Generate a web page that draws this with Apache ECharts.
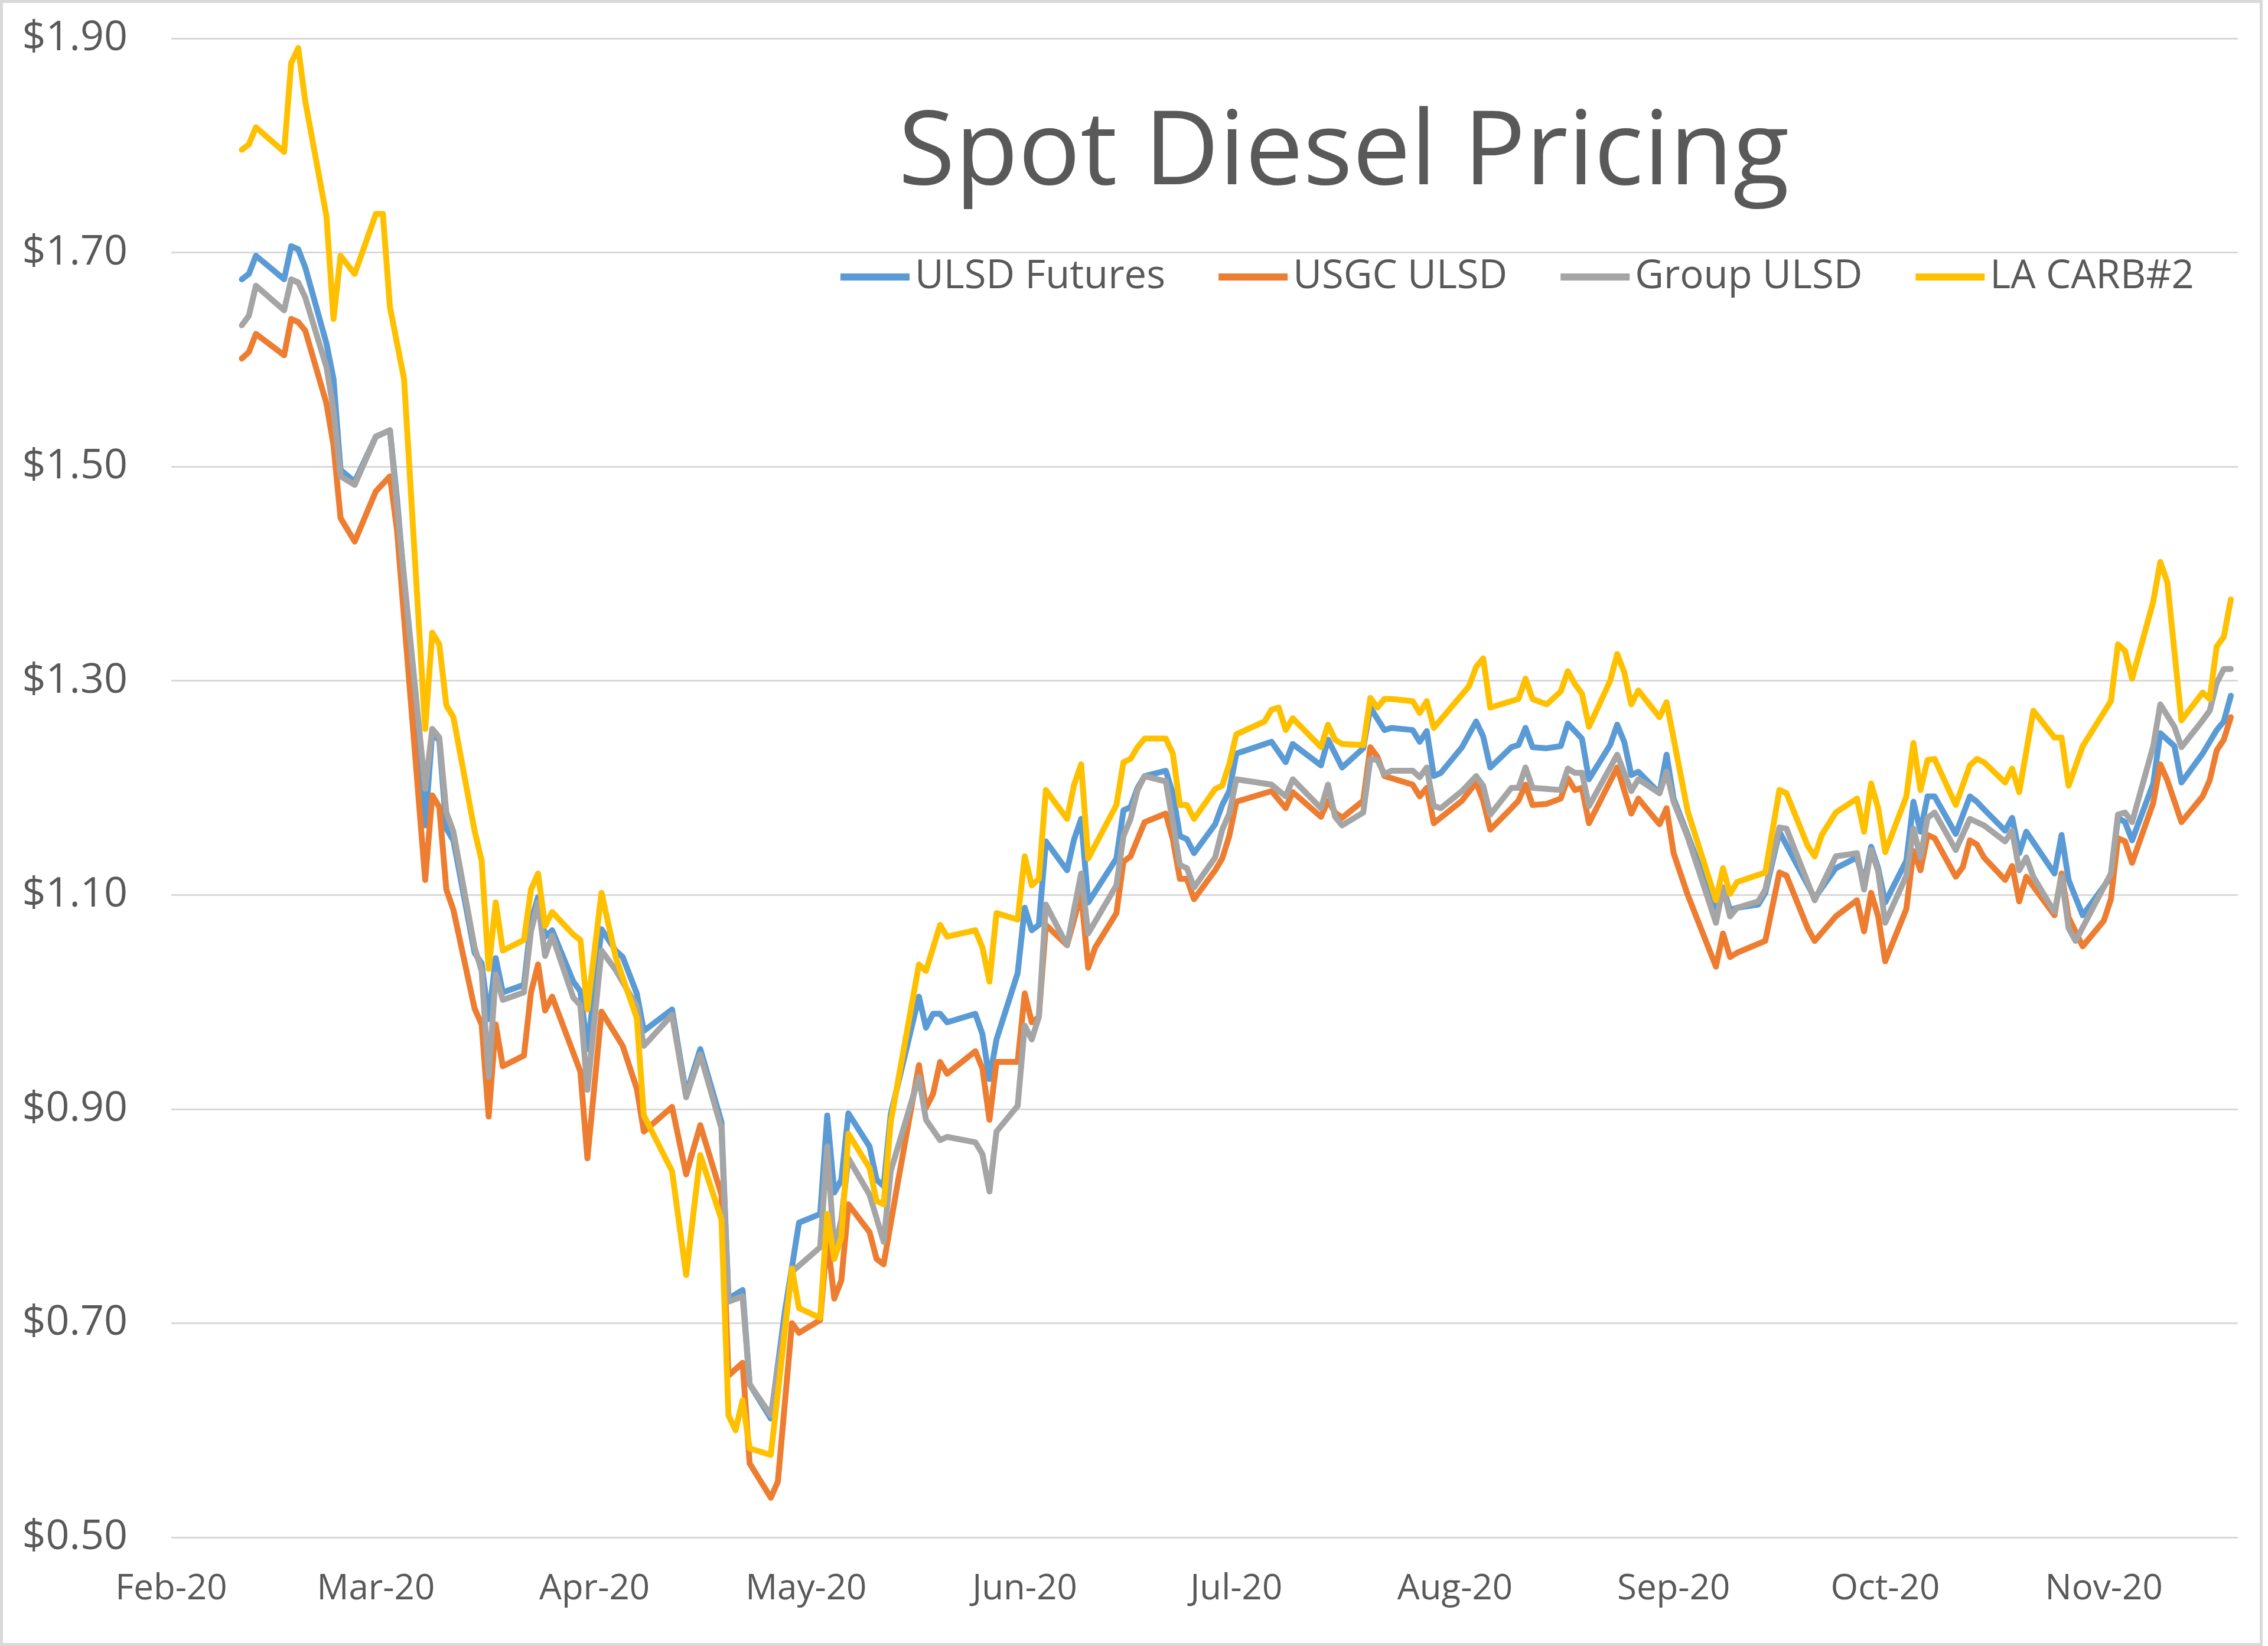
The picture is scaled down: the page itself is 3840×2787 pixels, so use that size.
<!DOCTYPE html>
<html>
<head>
<meta charset="utf-8">
<script src="https://cdn.jsdelivr.net/npm/echarts@6/dist/echarts.min.js"></script>
<style>
html,body{margin:0;padding:0;background:#fff;}
#chart{width:3840px;height:2787px;}
</style>
</head>
<body>
<div id="chart"></div>
<script>
const monthNames = ['Jan','Feb','Mar','Apr','May','Jun','Jul','Aug','Sep','Oct','Nov','Dec'];
const seriesNames = ['ULSD Futures','USGC ULSD','Group ULSD','LA CARB#2'];

const ulsdFutures = [['2020-02-11',1.675],['2020-02-12',1.680],['2020-02-13',1.697],['2020-02-17',1.675],['2020-02-18',1.706],['2020-02-19',1.703],['2020-02-20',1.686],['2020-02-23',1.615],['2020-02-24',1.582],['2020-02-25',1.497],['2020-02-27',1.486],['2020-03-01',1.528],['2020-03-02',1.531],['2020-03-03',1.534],['2020-03-04',1.470],['2020-03-08',1.165],['2020-03-09',1.252],['2020-03-10',1.244],['2020-03-11',1.162],['2020-03-12',1.151],['2020-03-15',1.046],['2020-03-16',1.036],['2020-03-17',0.984],['2020-03-18',1.041],['2020-03-19',1.009],['2020-03-22',1.016],['2020-03-23',1.075],['2020-03-24',1.098],['2020-03-25',1.061],['2020-03-26',1.067],['2020-03-29',1.019],['2020-03-30',1.010],['2020-03-31',0.956],['2020-04-02',1.068],['2020-04-04',1.048],['2020-04-05',1.042],['2020-04-07',1.008],['2020-04-08',0.973],['2020-04-12',0.993],['2020-04-14',0.914],['2020-04-16',0.956],['2020-04-19',0.888],['2020-04-20',0.723],['2020-04-22',0.731],['2020-04-23',0.643],['2020-04-26',0.611],['2020-04-28',0.711],['2020-04-30',0.794],['2020-05-03',0.802],['2020-05-04',0.894],['2020-05-05',0.822],['2020-05-06',0.834],['2020-05-07',0.896],['2020-05-10',0.865],['2020-05-11',0.834],['2020-05-12',0.828],['2020-05-13',0.895],['2020-05-17',1.005],['2020-05-18',0.976],['2020-05-19',0.989],['2020-05-20',0.989],['2020-05-21',0.981],['2020-05-25',0.989],['2020-05-26',0.970],['2020-05-27',0.928],['2020-05-28',0.965],['2020-05-31',1.027],['2020-06-01',1.088],['2020-06-02',1.067],['2020-06-03',1.072],['2020-06-04',1.150],['2020-06-07',1.123],['2020-06-08',1.152],['2020-06-09',1.171],['2020-06-10',1.093],['2020-06-14',1.134],['2020-06-15',1.179],['2020-06-16',1.182],['2020-06-17',1.200],['2020-06-18',1.211],['2020-06-21',1.216],['2020-06-22',1.195],['2020-06-23',1.155],['2020-06-24',1.152],['2020-06-25',1.139],['2020-06-28',1.166],['2020-06-29',1.184],['2020-06-30',1.197],['2020-07-01',1.232],['2020-07-06',1.243],['2020-07-08',1.224],['2020-07-09',1.241],['2020-07-13',1.221],['2020-07-14',1.245],['2020-07-16',1.219],['2020-07-19',1.237],['2020-07-20',1.275],['2020-07-22',1.254],['2020-07-23',1.256],['2020-07-26',1.254],['2020-07-27',1.243],['2020-07-28',1.253],['2020-07-29',1.211],['2020-07-30',1.214],['2020-08-02',1.238],['2020-08-04',1.262],['2020-08-05',1.248],['2020-08-06',1.219],['2020-08-09',1.238],['2020-08-10',1.240],['2020-08-11',1.256],['2020-08-12',1.238],['2020-08-14',1.237],['2020-08-16',1.239],['2020-08-17',1.260],['2020-08-18',1.253],['2020-08-19',1.246],['2020-08-20',1.208],['2020-08-23',1.240],['2020-08-24',1.259],['2020-08-25',1.243],['2020-08-26',1.212],['2020-08-27',1.215],['2020-08-30',1.195],['2020-08-31',1.231],['2020-09-01',1.190],['2020-09-03',1.156],['2020-09-07',1.086],['2020-09-08',1.107],['2020-09-09',1.086],['2020-09-10',1.088],['2020-09-13',1.091],['2020-09-14',1.102],['2020-09-16',1.159],['2020-09-21',1.097],['2020-09-24',1.125],['2020-09-27',1.135],['2020-09-28',1.111],['2020-09-29',1.145],['2020-09-30',1.125],['2020-10-01',1.093],['2020-10-04',1.132],['2020-10-05',1.187],['2020-10-06',1.159],['2020-10-07',1.192],['2020-10-08',1.192],['2020-10-11',1.157],['2020-10-13',1.192],['2020-10-14',1.187],['2020-10-15',1.180],['2020-10-18',1.160],['2020-10-19',1.172],['2020-10-20',1.139],['2020-10-21',1.159],['2020-10-25',1.120],['2020-10-26',1.156],['2020-10-27',1.114],['2020-10-29',1.081],['2020-11-02',1.117],['2020-11-03',1.172],['2020-11-04',1.168],['2020-11-05',1.151],['2020-11-08',1.204],['2020-11-09',1.251],['2020-11-11',1.239],['2020-11-12',1.205],['2020-11-15',1.232],['2020-11-17',1.254],['2020-11-18',1.262],['2020-11-19',1.286]];

const usgcUlsd = [['2020-02-11',1.601],['2020-02-12',1.607],['2020-02-13',1.624],['2020-02-17',1.604],['2020-02-18',1.638],['2020-02-19',1.635],['2020-02-20',1.627],['2020-02-23',1.559],['2020-02-24',1.520],['2020-02-25',1.452],['2020-02-27',1.430],['2020-03-01',1.477],['2020-03-03',1.491],['2020-03-04',1.441],['2020-03-08',1.114],['2020-03-09',1.193],['2020-03-10',1.182],['2020-03-11',1.105],['2020-03-12',1.086],['2020-03-15',0.994],['2020-03-16',0.979],['2020-03-17',0.893],['2020-03-18',0.979],['2020-03-19',0.940],['2020-03-22',0.950],['2020-03-23',1.009],['2020-03-24',1.035],['2020-03-25',0.992],['2020-03-26',1.005],['2020-03-30',0.935],['2020-03-31',0.854],['2020-04-02',0.991],['2020-04-05',0.959],['2020-04-07',0.919],['2020-04-08',0.879],['2020-04-12',0.902],['2020-04-14',0.839],['2020-04-16',0.885],['2020-04-19',0.820],['2020-04-20',0.651],['2020-04-22',0.663],['2020-04-23',0.569],['2020-04-26',0.537],['2020-04-27',0.552],['2020-04-29',0.700],['2020-04-30',0.691],['2020-05-03',0.703],['2020-05-04',0.780],['2020-05-05',0.723],['2020-05-06',0.740],['2020-05-07',0.811],['2020-05-10',0.785],['2020-05-11',0.760],['2020-05-12',0.755],['2020-05-14',0.831],['2020-05-17',0.941],['2020-05-18',0.901],['2020-05-19',0.914],['2020-05-20',0.944],['2020-05-21',0.933],['2020-05-25',0.954],['2020-05-26',0.938],['2020-05-27',0.890],['2020-05-28',0.944],['2020-05-31',0.944],['2020-06-01',1.008],['2020-06-02',0.981],['2020-06-03',0.986],['2020-06-04',1.072],['2020-06-07',1.053],['2020-06-09',1.101],['2020-06-10',1.032],['2020-06-11',1.051],['2020-06-14',1.083],['2020-06-15',1.131],['2020-06-16',1.136],['2020-06-18',1.168],['2020-06-21',1.176],['2020-06-22',1.152],['2020-06-23',1.115],['2020-06-24',1.115],['2020-06-25',1.096],['2020-06-28',1.123],['2020-06-29',1.134],['2020-06-30',1.155],['2020-07-01',1.187],['2020-07-06',1.197],['2020-07-08',1.181],['2020-07-09',1.196],['2020-07-13',1.173],['2020-07-14',1.188],['2020-07-15',1.177],['2020-07-16',1.172],['2020-07-19',1.188],['2020-07-20',1.238],['2020-07-21',1.229],['2020-07-22',1.211],['2020-07-26',1.203],['2020-07-27',1.192],['2020-07-28',1.200],['2020-07-29',1.167],['2020-08-02',1.188],['2020-08-04',1.205],['2020-08-05',1.188],['2020-08-06',1.161],['2020-08-09',1.181],['2020-08-10',1.188],['2020-08-11',1.203],['2020-08-12',1.184],['2020-08-14',1.185],['2020-08-16',1.190],['2020-08-17',1.209],['2020-08-18',1.198],['2020-08-19',1.200],['2020-08-20',1.167],['2020-08-24',1.219],['2020-08-26',1.176],['2020-08-27',1.190],['2020-08-30',1.166],['2020-08-31',1.181],['2020-09-01',1.139],['2020-09-03',1.100],['2020-09-07',1.033],['2020-09-08',1.064],['2020-09-09',1.042],['2020-09-10',1.046],['2020-09-14',1.057],['2020-09-16',1.121],['2020-09-17',1.118],['2020-09-20',1.069],['2020-09-21',1.057],['2020-09-24',1.080],['2020-09-27',1.095],['2020-09-28',1.066],['2020-09-29',1.102],['2020-09-30',1.080],['2020-10-01',1.038],['2020-10-04',1.087],['2020-10-05',1.141],['2020-10-06',1.123],['2020-10-07',1.156],['2020-10-08',1.153],['2020-10-11',1.117],['2020-10-12',1.126],['2020-10-13',1.151],['2020-10-14',1.147],['2020-10-15',1.135],['2020-10-18',1.114],['2020-10-19',1.127],['2020-10-20',1.094],['2020-10-21',1.117],['2020-10-25',1.081],['2020-10-26',1.120],['2020-10-27',1.079],['2020-10-29',1.052],['2020-11-01',1.076],['2020-11-02',1.096],['2020-11-03',1.153],['2020-11-04',1.150],['2020-11-05',1.130],['2020-11-08',1.186],['2020-11-09',1.222],['2020-11-10',1.207],['2020-11-12',1.168],['2020-11-15',1.192],['2020-11-16',1.207],['2020-11-17',1.235],['2020-11-18',1.245],['2020-11-19',1.266]];

const groupUlsd = [['2020-02-11',1.632],['2020-02-12',1.641],['2020-02-13',1.669],['2020-02-17',1.646],['2020-02-18',1.675],['2020-02-19',1.672],['2020-02-20',1.658],['2020-02-23',1.593],['2020-02-24',1.553],['2020-02-25',1.491],['2020-02-27',1.483],['2020-03-01',1.528],['2020-03-03',1.534],['2020-03-04',1.463],['2020-03-08',1.199],['2020-03-09',1.255],['2020-03-10',1.247],['2020-03-11',1.177],['2020-03-12',1.159],['2020-03-15',1.051],['2020-03-16',1.029],['2020-03-17',0.930],['2020-03-18',1.026],['2020-03-19',1.002],['2020-03-22',1.009],['2020-03-23',1.066],['2020-03-24',1.093],['2020-03-25',1.043],['2020-03-26',1.062],['2020-03-29',1.004],['2020-03-30',0.997],['2020-03-31',0.918],['2020-04-02',1.048],['2020-04-04',1.030],['2020-04-07',0.996],['2020-04-08',0.959],['2020-04-12',0.988],['2020-04-14',0.911],['2020-04-16',0.951],['2020-04-19',0.882],['2020-04-20',0.720],['2020-04-22',0.725],['2020-04-23',0.643],['2020-04-26',0.614],['2020-04-28',0.700],['2020-04-29',0.748],['2020-05-03',0.771],['2020-05-04',0.865],['2020-05-05',0.768],['2020-05-06',0.797],['2020-05-07',0.854],['2020-05-10',0.820],['2020-05-12',0.776],['2020-05-13',0.842],['2020-05-17',0.930],['2020-05-18',0.890],['2020-05-20',0.871],['2020-05-21',0.874],['2020-05-25',0.869],['2020-05-26',0.858],['2020-05-27',0.823],['2020-05-28',0.879],['2020-05-31',0.903],['2020-06-01',0.978],['2020-06-02',0.965],['2020-06-03',0.986],['2020-06-04',1.091],['2020-06-07',1.053],['2020-06-09',1.120],['2020-06-10',1.064],['2020-06-14',1.109],['2020-06-15',1.155],['2020-06-16',1.171],['2020-06-17',1.198],['2020-06-18',1.211],['2020-06-21',1.206],['2020-06-22',1.168],['2020-06-23',1.128],['2020-06-24',1.125],['2020-06-25',1.107],['2020-06-28',1.135],['2020-06-29',1.161],['2020-06-30',1.176],['2020-07-01',1.208],['2020-07-06',1.203],['2020-07-08',1.192],['2020-07-09',1.208],['2020-07-13',1.181],['2020-07-14',1.203],['2020-07-15',1.173],['2020-07-16',1.165],['2020-07-19',1.177],['2020-07-20',1.227],['2020-07-21',1.226],['2020-07-22',1.213],['2020-07-23',1.216],['2020-07-26',1.216],['2020-07-27',1.210],['2020-07-28',1.219],['2020-07-29',1.183],['2020-07-30',1.181],['2020-08-02',1.197],['2020-08-04',1.211],['2020-08-05',1.202],['2020-08-06',1.175],['2020-08-09',1.200],['2020-08-10',1.200],['2020-08-11',1.219],['2020-08-12',1.200],['2020-08-14',1.199],['2020-08-16',1.198],['2020-08-17',1.218],['2020-08-18',1.214],['2020-08-19',1.214],['2020-08-20',1.183],['2020-08-24',1.231],['2020-08-26',1.197],['2020-08-27',1.208],['2020-08-30',1.195],['2020-08-31',1.215],['2020-09-01',1.187],['2020-09-03',1.154],['2020-09-07',1.074],['2020-09-08',1.107],['2020-09-09',1.080],['2020-09-10',1.088],['2020-09-13',1.094],['2020-09-14',1.105],['2020-09-16',1.163],['2020-09-17',1.162],['2020-09-21',1.095],['2020-09-24',1.136],['2020-09-27',1.139],['2020-09-28',1.105],['2020-09-29',1.142],['2020-09-30',1.122],['2020-10-01',1.074],['2020-10-04',1.118],['2020-10-05',1.162],['2020-10-06',1.135],['2020-10-07',1.172],['2020-10-08',1.177],['2020-10-11',1.142],['2020-10-13',1.171],['2020-10-14',1.168],['2020-10-15',1.165],['2020-10-18',1.150],['2020-10-19',1.160],['2020-10-20',1.123],['2020-10-21',1.135],['2020-10-22',1.117],['2020-10-25',1.084],['2020-10-26',1.117],['2020-10-27',1.069],['2020-10-28',1.057],['2020-11-02',1.120],['2020-11-03',1.175],['2020-11-04',1.177],['2020-11-05',1.168],['2020-11-08',1.239],['2020-11-09',1.278],['2020-11-11',1.257],['2020-11-12',1.238],['2020-11-15',1.263],['2020-11-16',1.272],['2020-11-17',1.298],['2020-11-18',1.311],['2020-11-19',1.311]];

const laCarb2 = [['2020-02-11',1.796],['2020-02-12',1.801],['2020-02-13',1.817],['2020-02-17',1.794],['2020-02-18',1.877],['2020-02-19',1.891],['2020-02-20',1.841],['2020-02-23',1.734],['2020-02-24',1.638],['2020-02-25',1.697],['2020-02-27',1.680],['2020-03-01',1.736],['2020-03-02',1.736],['2020-03-03',1.649],['2020-03-05',1.582],['2020-03-08',1.255],['2020-03-09',1.345],['2020-03-10',1.334],['2020-03-11',1.277],['2020-03-12',1.266],['2020-03-15',1.160],['2020-03-16',1.132],['2020-03-17',1.031],['2020-03-18',1.093],['2020-03-19',1.048],['2020-03-22',1.058],['2020-03-23',1.105],['2020-03-24',1.120],['2020-03-25',1.071],['2020-03-26',1.084],['2020-03-29',1.063],['2020-03-30',1.058],['2020-03-31',0.993],['2020-04-02',1.102],['2020-04-04',1.042],['2020-04-07',0.985],['2020-04-08',0.894],['2020-04-12',0.842],['2020-04-14',0.745],['2020-04-16',0.857],['2020-04-19',0.797],['2020-04-20',0.614],['2020-04-21',0.600],['2020-04-22',0.628],['2020-04-23',0.583],['2020-04-26',0.577],['2020-04-29',0.751],['2020-04-30',0.714],['2020-05-03',0.705],['2020-05-04',0.802],['2020-05-05',0.760],['2020-05-06',0.780],['2020-05-07',0.877],['2020-05-10',0.845],['2020-05-11',0.814],['2020-05-12',0.811],['2020-05-13',0.888],['2020-05-17',1.035],['2020-05-18',1.029],['2020-05-20',1.072],['2020-05-21',1.061],['2020-05-25',1.067],['2020-05-26',1.051],['2020-05-27',1.019],['2020-05-28',1.083],['2020-05-31',1.077],['2020-06-01',1.136],['2020-06-02',1.109],['2020-06-03',1.115],['2020-06-04',1.198],['2020-06-07',1.171],['2020-06-08',1.203],['2020-06-09',1.222],['2020-06-10',1.134],['2020-06-14',1.184],['2020-06-15',1.224],['2020-06-16',1.227],['2020-06-17',1.238],['2020-06-18',1.246],['2020-06-21',1.246],['2020-06-22',1.232],['2020-06-23',1.184],['2020-06-24',1.184],['2020-06-25',1.171],['2020-06-28',1.199],['2020-06-29',1.202],['2020-06-30',1.222],['2020-07-01',1.250],['2020-07-05',1.262],['2020-07-06',1.273],['2020-07-07',1.275],['2020-07-08',1.254],['2020-07-09',1.265],['2020-07-13',1.238],['2020-07-14',1.259],['2020-07-15',1.245],['2020-07-16',1.241],['2020-07-19',1.240],['2020-07-20',1.284],['2020-07-21',1.275],['2020-07-22',1.283],['2020-07-23',1.283],['2020-07-26',1.281],['2020-07-27',1.270],['2020-07-28',1.281],['2020-07-29',1.256],['2020-08-03',1.295],['2020-08-04',1.313],['2020-08-05',1.321],['2020-08-06',1.275],['2020-08-10',1.283],['2020-08-11',1.302],['2020-08-12',1.283],['2020-08-14',1.278],['2020-08-16',1.290],['2020-08-17',1.309],['2020-08-18',1.297],['2020-08-19',1.288],['2020-08-20',1.257],['2020-08-23',1.300],['2020-08-24',1.325],['2020-08-25',1.308],['2020-08-26',1.278],['2020-08-27',1.291],['2020-08-30',1.266],['2020-08-31',1.280],['2020-09-02',1.212],['2020-09-03',1.178],['2020-09-07',1.095],['2020-09-08',1.125],['2020-09-09',1.101],['2020-09-10',1.112],['2020-09-14',1.121],['2020-09-16',1.198],['2020-09-17',1.195],['2020-09-20',1.146],['2020-09-21',1.136],['2020-09-22',1.156],['2020-09-24',1.177],['2020-09-27',1.190],['2020-09-28',1.159],['2020-09-29',1.204],['2020-09-30',1.181],['2020-10-01',1.140],['2020-10-04',1.192],['2020-10-05',1.242],['2020-10-06',1.198],['2020-10-07',1.226],['2020-10-08',1.227],['2020-10-11',1.184],['2020-10-13',1.221],['2020-10-14',1.227],['2020-10-15',1.224],['2020-10-18',1.205],['2020-10-19',1.218],['2020-10-20',1.196],['2020-10-22',1.272],['2020-10-25',1.247],['2020-10-26',1.247],['2020-10-27',1.202],['2020-10-29',1.239],['2020-11-02',1.281],['2020-11-03',1.334],['2020-11-04',1.328],['2020-11-05',1.302],['2020-11-08',1.374],['2020-11-09',1.411],['2020-11-10',1.392],['2020-11-12',1.263],['2020-11-15',1.289],['2020-11-16',1.283],['2020-11-17',1.332],['2020-11-18',1.341],['2020-11-19',1.376]];

const seriesData = [ulsdFutures, usgcUlsd, groupUlsd, laCarb2];
const seriesColors = ['#5B9BD5','#ED7D31','#A5A5A5','#FFC000'];
const FONT = '"Open Sans", "Noto Sans", sans-serif';
const TEXT = '#595959';

const chart = echarts.init(document.getElementById('chart'), null, {renderer:'canvas'});
chart.setOption({
  animation: false,
  backgroundColor: '#ffffff',
  textStyle: {fontFamily: FONT},
  title: {
    text: 'Spot Diesel Pricing',
    left: 1516, top: 168,
    textStyle: {fontFamily: FONT, fontSize: 175, fontWeight: 'normal', color: TEXT, lineHeight: 178}
  },
  legend: {
    left: 1418, top: 428,
    icon: 'rect',
    itemWidth: 117, itemHeight: 12, itemGap: 90,
    textStyle: {fontFamily: FONT, fontSize: 67, color: TEXT, lineHeight: 72, padding: [0, 0, 0, 4]},
    data: seriesNames
  },
  graphic: [{
    type: 'rect', silent: true, z: -1,
    shape: {x: 2.5, y: 2.5, width: 3826, height: 2782},
    style: {fill: 'none', stroke: '#D9D9D9', lineWidth: 5}
  }],
  grid: {left: 290, right: 51, top: 65, bottom: 184, containLabel: false},
  xAxis: {
    type: 'time',
    min: '2020-02-01', max: '2020-11-20',
    minInterval: 28 * 86400000, maxInterval: 31 * 86400000,
    axisLine: {show: false}, axisTick: {show: false}, splitLine: {show: false},
    axisLabel: {
      fontFamily: FONT, fontSize: 60, color: TEXT, margin: 58,
      showMinLabel: true, showMaxLabel: false, hideOverlap: false,
      formatter: function (val) {
        const d = new Date(val);
        return monthNames[d.getMonth()] + '-' + String(d.getFullYear()).slice(2);
      }
    }
  },
  yAxis: {
    type: 'value', min: 0.5, max: 1.9, interval: 0.2,
    axisLine: {show: false}, axisTick: {show: false},
    splitLine: {show: true, lineStyle: {color: '#D9D9D9', width: 3}},
    axisLabel: {
      fontFamily: FONT, fontSize: 70, color: TEXT, margin: 74,
      formatter: function (v) { return '$' + v.toFixed(2); }
    }
  },
  series: seriesNames.map(function (name, i) {
    return {
      name: name, type: 'line', data: seriesData[i],
      symbol: 'none', showSymbol: false,
      color: seriesColors[i],
      lineStyle: {width: 10, color: seriesColors[i], join: 'round', cap: 'round'}
    };
  })
});
</script>
</body>
</html>
